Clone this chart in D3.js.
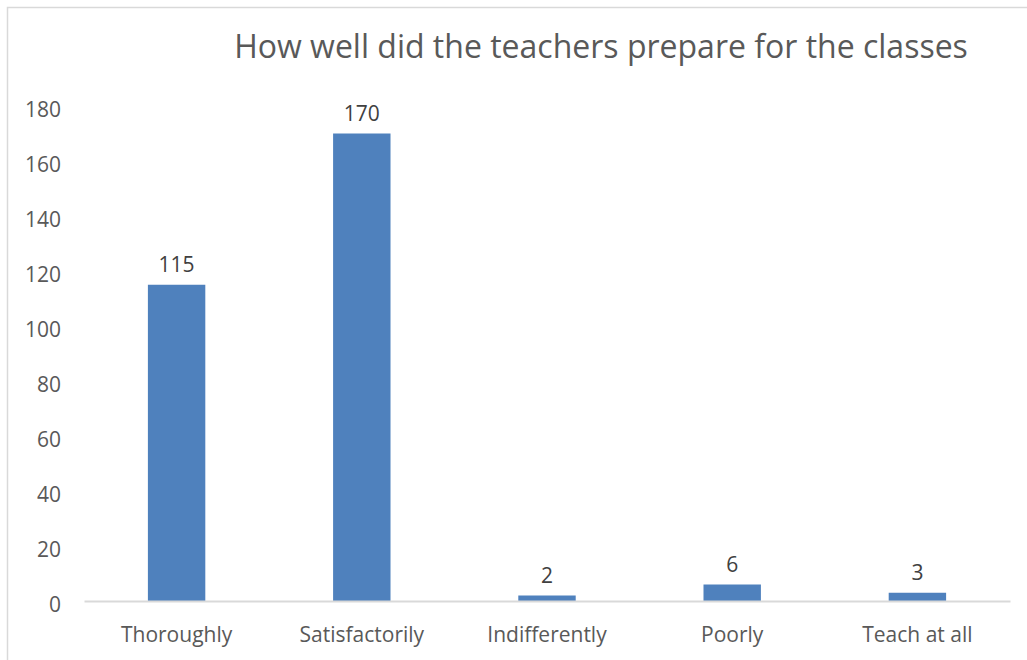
<!DOCTYPE html>
<html>
<head>
<meta charset="utf-8">
<script src="https://cdn.jsdelivr.net/npm/d3@7"></script>
<style>
  body { margin: 0; background: #fff; }
  text { font-family: "Open Sans", sans-serif; }
</style>
</head>
<body>
<svg id="chart" width="1027" height="660"></svg>
<script>
var categories = ["Thoroughly", "Satisfactorily", "Indifferently", "Poorly", "Teach at all"];
var values = [115, 170, 2, 6, 3];
var yTicks = [0, 20, 40, 60, 80, 100, 120, 140, 160, 180];
var title = "How well did the teachers prepare for the classes";

var svg = d3.select("#chart");
var margin = {left: 84, right: 17, top: 106, bottom: 59};
var width = 1027, height = 660;

// chart frame
svg.append("rect")
    .attr("x", 7.5).attr("y", 7.5)
    .attr("width", 1040).attr("height", 680)
    .style("fill", "none")
    .style("stroke", "#d9d9d9")
    .style("stroke-width", 1.5);

var x = d3.scaleBand()
    .domain(categories)
    .range([margin.left, width - margin.right])
    .paddingInner(0.69)
    .paddingOuter(0.345);

var y = d3.scaleLinear()
    .domain([0, 180])
    .range([height - margin.bottom, margin.top]);

svg.append("text")
    .attr("x", 601)
    .attr("y", 58)
    .attr("text-anchor", "middle")
    .style("font-size", "32px")
    .style("fill", "#595959")
    .text(title);

var yAxis = svg.append("g")
    .attr("transform", "translate(" + margin.left + ",0)")
    .call(d3.axisLeft(y).tickValues(yTicks).tickSize(0).tickPadding(23));
yAxis.select(".domain").remove();
yAxis.selectAll("text")
    .attr("dy", "0.5em")
    .style("font-size", "21px")
    .style("fill", "#595959");

svg.selectAll(".bar")
    .data(values)
  .enter().append("rect")
    .attr("class", "bar")
    .attr("x", function(d, i) { return x(categories[i]); })
    .attr("width", x.bandwidth())
    .attr("y", function(d) { return y(d); })
    .attr("height", function(d) { return y(0) - y(d); })
    .style("fill", "#4f81bd");

svg.selectAll(".label")
    .data(values)
  .enter().append("text")
    .attr("class", "label")
    .attr("x", function(d, i) { return x(categories[i]) + x.bandwidth() / 2; })
    .attr("y", function(d) { return y(d) - 13; })
    .attr("text-anchor", "middle")
    .style("font-size", "21px")
    .style("fill", "#404040")
    .text(function(d) { return d; });

var xAxis = svg.append("g")
    .attr("transform", "translate(0," + y(0) + ")")
    .call(d3.axisBottom(x).tickSize(0).tickPadding(26));
xAxis.select(".domain")
    .style("stroke", "#d9d9d9")
    .style("stroke-width", 2);
xAxis.selectAll("text")
    .style("font-size", "21px")
    .style("fill", "#595959");
</script>
</body>
</html>
